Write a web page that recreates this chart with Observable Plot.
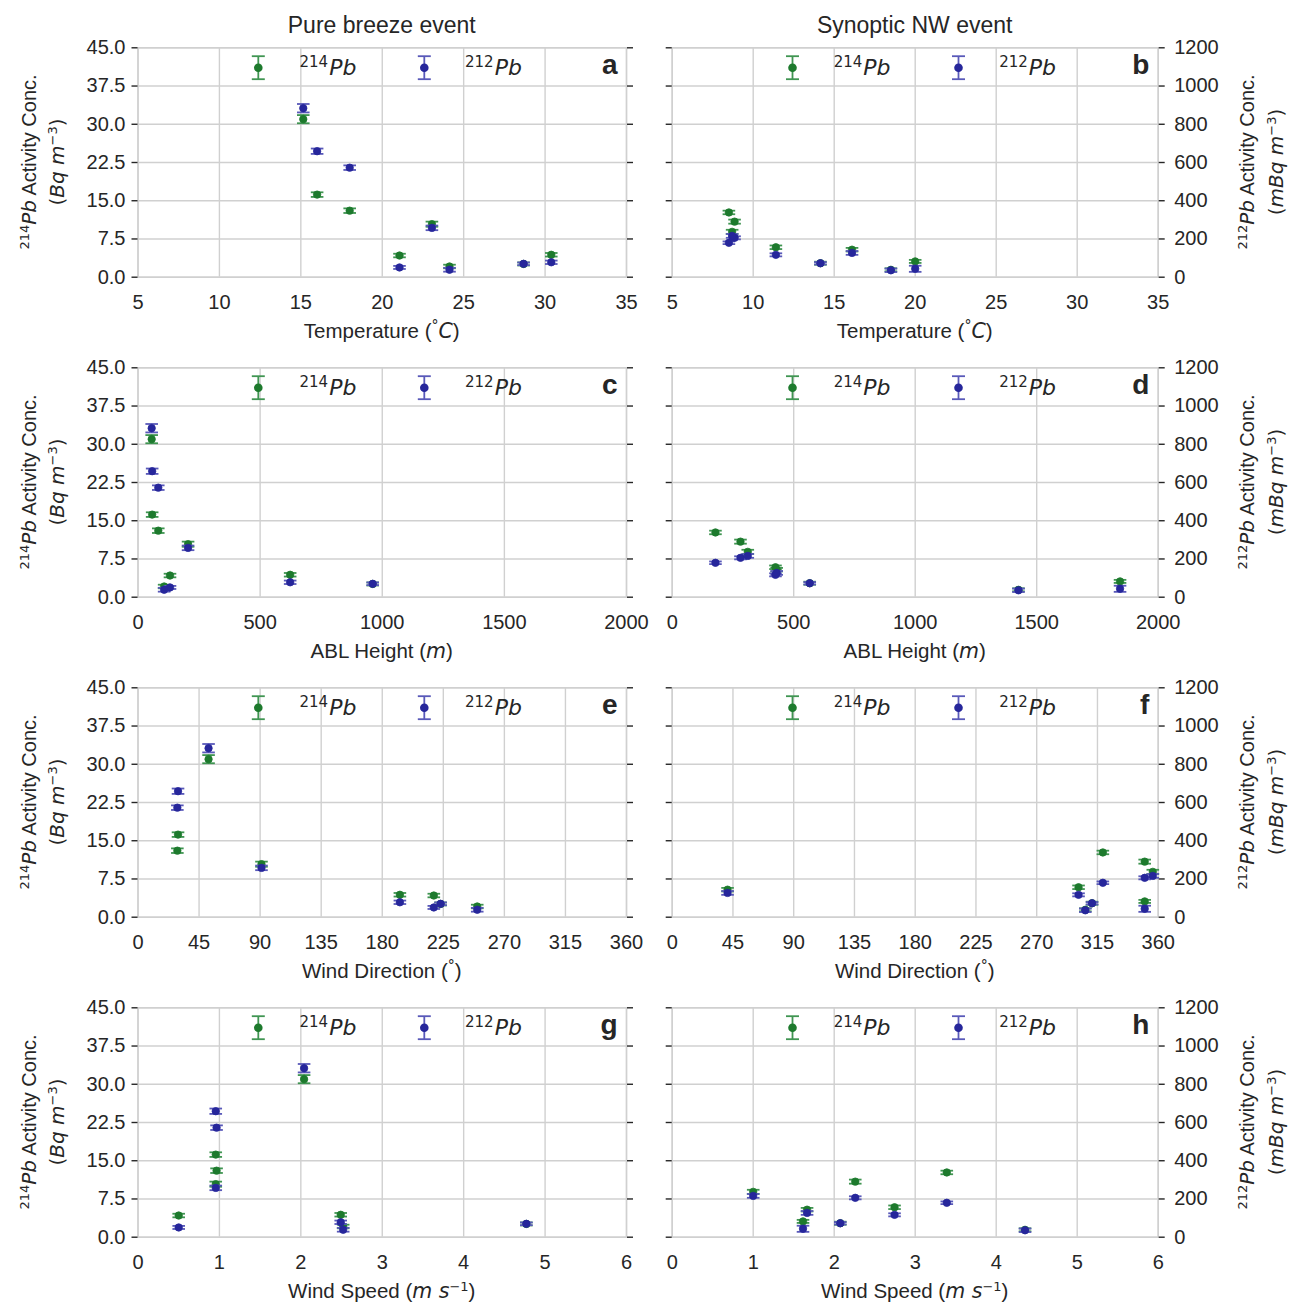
<!DOCTYPE html>
<html><head><meta charset="utf-8">
<script src="https://cdn.jsdelivr.net/npm/d3@7"></script>
<script src="https://cdn.jsdelivr.net/npm/@observablehq/plot@0.6"></script>
<style>
html,body{margin:0;padding:0;background:#fff;overflow:hidden;}
#fig{position:relative;width:1296px;height:1306px;overflow:hidden;background:#fff;}
#fig svg{position:absolute;overflow:visible;}
</style></head><body><div id="fig"></div>
<script>
// ---------- data: pure breeze event (8 samples) ----------
const breezeTemp  = [15.15, 16.0, 18.0, 23.05, 21.06, 24.13, 28.68, 30.38];
const breezeABL   = [56, 58, 83, 205, 131, 107, 961, 623];
const breezeWD    = [52, 29.5, 29, 91, 218, 250, 223, 193];
const breezeWS    = [2.04, 0.955, 0.965, 0.955, 0.50, 2.52, 4.77, 2.49];
const breezePb214 = [31.0, 16.2, 13.05, 10.4, 4.25, 2.1, 2.6, 4.4];
const breezeErr214= [0.8, 0.45, 0.45, 0.5, 0.35, 0.35, 0.3, 0.35];
const breezePb212 = [884, 659, 573, 258, 51, 39, 70, 78];
const breezeErr212= [22, 14, 12, 12, 8, 10, 7, 9];

// ---------- data: synoptic NW event (8 samples) ----------
const synTemp  = [8.5, 8.85, 8.7, 11.4, 16.1, 14.15, 18.5, 20.0];
const synABL   = [178, 281, 311, 425, 430, 566, 1425, 1843];
const synWD    = [319, 350, 356, 301, 41, 311, 306, 350];
const synWS    = [3.39, 2.26, 1.0, 2.745, 1.665, 2.075, 4.356, 1.615];
const synPb214 = [12.7, 10.9, 8.9, 5.87, 5.4, 2.74, 1.45, 3.1];
const synErr214= [0.35, 0.4, 0.4, 0.35, 0.35, 0.3, 0.3, 0.3];
const synPb212 = [180, 206, 216, 117, 127, 73, 36, 44];
const synErr212= [7, 8, 10, 8, 10, 6, 9, 16];

// ---------- ticks ----------
const tempTicks = [5, 10, 15, 20, 25, 30, 35];
const ablTicks  = [0, 500, 1000, 1500, 2000];
const wdTicks   = [0, 45, 90, 135, 180, 225, 270, 315, 360];
const wsTicks   = [0, 1, 2, 3, 4, 5, 6];
const pb214Ticks = [0, 7.5, 15, 22.5, 30, 37.5, 45];
const pb212Ticks = [0, 200, 400, 600, 800, 1000, 1200];
const columnTitles = ["Pure breeze event", "Synoptic NW event"];
const letters = [["a","b"],["c","d"],["e","f"],["g","h"]];

const GREEN_DOT = "#1d7a2d", GREEN_BAR = "#409552";
const BLUE_DOT = "#26269b", BLUE_BAR = "#5959b9";
const TXT = "#262626", GRID = "#d0d0d0";
const SANS = "'Liberation Sans', Arial, sans-serif";
const MATH = "'DejaVu Sans', sans-serif";
const ratio = 45 / 1200; // 212Pb mBq -> shared 214Pb scale

const capSymbol = {draw(ctx, size){ const w = Math.sqrt(size / Math.PI); ctx.moveTo(-w, 0); ctx.lineTo(w, 0); }};

const fig = d3.select("#fig");

function rich(sel, parts){
  parts.forEach(p => {
    const t = sel.append("tspan").text(p.t);
    if (p.math || p.italic) t.attr("font-family", MATH);
    if (p.italic) t.attr("font-style", "italic");
    if (p.sup) t.attr("font-size", p.sup).attr("baseline-shift", "super");
  });
}

function panel({row, col, xs, pb214, err214, pb212, err212, xDomain, xTicks, xLabel}){
  const isLeft = col === 0;
  const W = 648, H = 350, mt = 47.3, plotH = 229.4, mb = H - mt - plotH;
  const ml = isLeft ? 137.5 : 23.7, mr = isLeft ? 22 : 138.3;
  const plotW = W - ml - mr;
  const green = xs.map((x, i) => ({x, y: pb214[i], e: err214[i]}));
  const blue = xs.map((x, i) => ({x, y: pb212[i] * ratio, e: err212[i] * ratio}));
  const yTicks = pb214Ticks;
  const series = (data, bar, dot) => [
    Plot.ruleX(data, {x: "x", y1: d => d.y - d.e, y2: d => d.y + d.e, stroke: bar, strokeWidth: 1.8}),
    Plot.dot(data, {x: "x", y: d => d.y + d.e, symbol: capSymbol, r: 6.3, stroke: bar, strokeWidth: 1.8, fill: "none"}),
    Plot.dot(data, {x: "x", y: d => d.y - d.e, symbol: capSymbol, r: 6.3, stroke: bar, strokeWidth: 1.8, fill: "none"}),
    Plot.dot(data, {x: "x", y: "y", r: 3.7, fill: dot, stroke: dot, strokeWidth: 0.8})
  ];
  const node = Plot.plot({
    width: W, height: H,
    marginTop: mt, marginBottom: mb, marginLeft: ml, marginRight: mr,
    style: {background: "transparent", overflow: "visible", fontFamily: SANS, fontSize: "20px", color: TXT},
    x: {domain: xDomain},
    y: {domain: [0, 45]},
    marks: [
      Plot.gridX(xTicks, {stroke: GRID, strokeOpacity: 1, strokeWidth: 1.4}),
      Plot.gridY(yTicks, {stroke: GRID, strokeOpacity: 1, strokeWidth: 1.4}),
      Plot.frame({stroke: GRID, strokeWidth: 1.4}),
      Plot.axisX({ticks: xTicks, tickSize: 0, tickPadding: 18, label: null, fontSize: 20, color: TXT, tickFormat: d => String(d)}),
      Plot.axisY({anchor: "left", ticks: yTicks, tickSize: 6, tickPadding: 6.5, label: null, fontSize: 20, color: TXT, strokeWidth: 1.4,
        tickFormat: isLeft ? (d => d.toFixed(1)) : (() => "")}),
      Plot.axisY({anchor: "right", ticks: pb212Ticks.map(v => v * ratio), tickSize: 6, tickPadding: 10, label: null, fontSize: 20, color: TXT, strokeWidth: 1.4,
        tickFormat: isLeft ? (() => "") : (d => String(Math.round(d / ratio)))}),
      ...series(green, GREEN_BAR, GREEN_DOT),
      ...series(blue, BLUE_BAR, BLUE_DOT)
    ]
  });
  fig.node().appendChild(node);
  const svg = d3.select(node).style("left", (col * 648) + "px").style("top", (row * 320) + "px");
  const g = svg.append("g");

  // legend
  const legend = (dx, bar, dot, tdx, sup) => {
    const cx = ml + dx, cy = mt + 20.4;
    g.append("line").attr("x1", cx).attr("x2", cx).attr("y1", cy - 11.5).attr("y2", cy + 11.5).attr("stroke", bar).attr("stroke-width", 1.8);
    [-11.5, 11.5].forEach(o => g.append("line").attr("x1", cx - 6.5).attr("x2", cx + 6.5).attr("y1", cy + o).attr("y2", cy + o).attr("stroke", bar).attr("stroke-width", 1.8));
    g.append("circle").attr("cx", cx).attr("cy", cy).attr("r", 4.3).attr("fill", dot);
    const t = g.append("text").attr("x", ml + tdx).attr("y", mt + 28).attr("text-anchor", "start")
      .attr("font-size", 22).attr("fill", TXT).attr("font-family", SANS);
    t.append("tspan").text(sup).attr("font-size", 15).attr("dy", -8.5).attr("font-family", MATH);
    t.append("tspan").text("Pb").attr("font-family", MATH).attr("font-style", "italic").attr("dy", 8.5).attr("dx", 1);
  };
  legend(120.8, GREEN_BAR, GREEN_DOT, 162, "214");
  legend(286.8, BLUE_BAR, BLUE_DOT, 327.5, "212");

  // panel letter
  g.append("text").attr("x", ml + plotW - 8.3).attr("y", mt + 27).attr("text-anchor", "end")
    .attr("font-size", 28).attr("font-weight", "bold").attr("font-family", SANS).attr("fill", TXT).text(letters[row][col]);

  // x label
  const xl = g.append("text").attr("x", ml + plotW / 2).attr("y", mt + plotH + 61.6).attr("text-anchor", "middle")
    .attr("font-size", 20.5).attr("font-family", SANS).attr("fill", TXT);
  rich(xl, xLabel);

  // y labels
  const yc = mt + plotH / 2;
  const ylab = (x, parts) => {
    const t = g.append("text").attr("transform", `translate(${x},${yc}) rotate(-90)`).attr("text-anchor", "middle")
      .attr("font-size", 20).attr("font-family", SANS).attr("fill", TXT);
    rich(t, parts);
  };
  if (isLeft) {
    ylab(36, [{t: "214", sup: 13, math: true}, {t: "Pb", italic: true}, {t: " Activity Conc."}]);
    ylab(64, [{t: "(", math: true}, {t: "Bq m", italic: true}, {t: "−3", sup: 13, math: true}, {t: ")", math: true}]);
  } else {
    ylab(606, [{t: "212", sup: 13, math: true}, {t: "Pb", italic: true}, {t: " Activity Conc."}]);
    ylab(635, [{t: "(", math: true}, {t: "mBq m", italic: true}, {t: "−3", sup: 13, math: true}, {t: ")", math: true}]);
  }

  // column title
  if (row === 0) {
    g.append("text").attr("x", ml + plotW / 2).attr("y", 33.3).attr("text-anchor", "middle")
      .attr("font-size", 23).attr("font-family", SANS).attr("fill", TXT).text(columnTitles[col]);
  }
}

const xLabels = {
  temp: [{t: "Temperature ("}, {t: "°", sup: 14, math: true}, {t: "C", italic: true}, {t: ")"}],
  abl: [{t: "ABL Height ("}, {t: "m", italic: true}, {t: ")"}],
  wd: [{t: "Wind Direction ("}, {t: "°", sup: 14, math: true}, {t: ")"}],
  ws: [{t: "Wind Speed ("}, {t: "m s", italic: true}, {t: "−1", sup: 13, math: true}, {t: ")"}]
};

const rows = [
  {bx: breezeTemp, sx: synTemp, dom: [5, 35], ticks: tempTicks, label: xLabels.temp},
  {bx: breezeABL, sx: synABL, dom: [0, 2000], ticks: ablTicks, label: xLabels.abl},
  {bx: breezeWD, sx: synWD, dom: [0, 360], ticks: wdTicks, label: xLabels.wd},
  {bx: breezeWS, sx: synWS, dom: [0, 6], ticks: wsTicks, label: xLabels.ws}
];
rows.forEach((r, i) => {
  panel({row: i, col: 0, xs: r.bx, pb214: breezePb214, err214: breezeErr214, pb212: breezePb212, err212: breezeErr212,
    xDomain: r.dom, xTicks: r.ticks, xLabel: r.label});
  panel({row: i, col: 1, xs: r.sx, pb214: synPb214, err214: synErr214, pb212: synPb212, err212: synErr212,
    xDomain: r.dom, xTicks: r.ticks, xLabel: r.label});
});
</script></body></html>
